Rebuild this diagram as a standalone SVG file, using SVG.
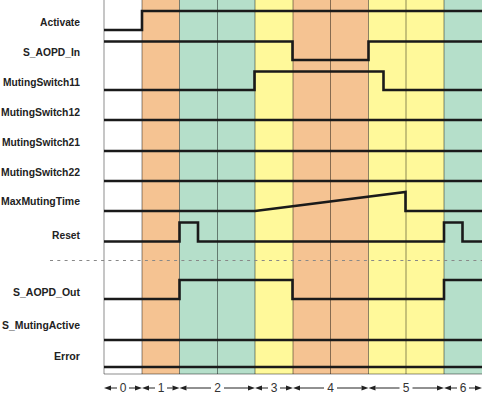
<svg xmlns="http://www.w3.org/2000/svg" width="482" height="397" viewBox="0 0 482 397">
<style>
.lbl{font-family:"Liberation Sans",Arial,sans-serif;font-weight:bold;font-size:11px;fill:#222;text-anchor:end}
.ax{font-family:"Liberation Sans",Arial,sans-serif;font-size:12px;fill:#333;text-anchor:middle}
.sig{fill:none;stroke:#1a1a1a;stroke-width:2.6;stroke-linejoin:miter}
.grid{stroke:#000;stroke-opacity:0.45;stroke-width:1}
.axl{stroke:#222;stroke-width:1}
.ah{fill:#222}
</style>
<rect width="482" height="397" fill="#fff"/>
<g id="phases">
<rect x="142" y="0" width="37.5" height="374" fill="#F5C392"/>
<rect x="179.5" y="0" width="75.5" height="374" fill="#B5DFCA"/>
<rect x="255" y="0" width="38" height="374" fill="#FFF99A"/>
<rect x="293" y="0" width="75.5" height="374" fill="#F5C392"/>
<rect x="368.5" y="0" width="75.5" height="374" fill="#FFF99A"/>
<rect x="444" y="0" width="38" height="374" fill="#B5DFCA"/>
</g>
<g id="grid">
<line class="grid" x1="104" y1="0" x2="104" y2="374"/>
<line class="grid" x1="142" y1="0" x2="142" y2="374"/>
<line class="grid" x1="179.5" y1="0" x2="179.5" y2="374"/>
<line class="grid" x1="217.5" y1="0" x2="217.5" y2="374"/>
<line class="grid" x1="255" y1="0" x2="255" y2="374"/>
<line class="grid" x1="293" y1="0" x2="293" y2="374"/>
<line class="grid" x1="330.5" y1="0" x2="330.5" y2="374"/>
<line class="grid" x1="368.5" y1="0" x2="368.5" y2="374"/>
<line class="grid" x1="406" y1="0" x2="406" y2="374"/>
<line class="grid" x1="444" y1="0" x2="444" y2="374"/>
<line class="grid" x1="104" y1="374" x2="482" y2="374"/>
<line x1="50" y1="260.5" x2="482" y2="260.5" stroke="#888" stroke-width="1" stroke-dasharray="3,4.3"/>
</g>
<g id="labels">
<text class="lbl" x="80" y="26" textLength="40" lengthAdjust="spacingAndGlyphs">Activate</text>
<text class="lbl" x="80" y="56" textLength="57" lengthAdjust="spacingAndGlyphs">S_AOPD_In</text>
<text class="lbl" x="80" y="86" textLength="77" lengthAdjust="spacingAndGlyphs">MutingSwitch11</text>
<text class="lbl" x="80" y="116" textLength="79" lengthAdjust="spacingAndGlyphs">MutingSwitch12</text>
<text class="lbl" x="80" y="146" textLength="78" lengthAdjust="spacingAndGlyphs">MutingSwitch21</text>
<text class="lbl" x="80" y="176" textLength="79" lengthAdjust="spacingAndGlyphs">MutingSwitch22</text>
<text class="lbl" x="80" y="205" textLength="79" lengthAdjust="spacingAndGlyphs">MaxMutingTime</text>
<text class="lbl" x="80" y="239" textLength="28" lengthAdjust="spacingAndGlyphs">Reset</text>
<text class="lbl" x="80" y="296" textLength="67" lengthAdjust="spacingAndGlyphs">S_AOPD_Out</text>
<text class="lbl" x="80" y="329" textLength="78" lengthAdjust="spacingAndGlyphs">S_MutingActive</text>
<text class="lbl" x="80" y="360" textLength="26" lengthAdjust="spacingAndGlyphs">Error</text>
</g>
<g id="signals">
<path class="sig" d="M104,30 H142 V11 H482"/>
<path class="sig" d="M104,41.5 H292.5 V60 H368.5 V41.5 H482"/>
<path class="sig" d="M104,90 H254.5 V71.5 H383.5 V90 H482"/>
<path class="sig" d="M104,120 H482"/>
<path class="sig" d="M104,151 H482"/>
<path class="sig" d="M104,181 H482"/>
<path class="sig" d="M104,211 H255 L405.5,192 V211 H482"/>
<path class="sig" d="M104,241.5 H179.5 V222.5 H198 V241.5 H444 V222.5 H462.5 V241.5 H482"/>
<path class="sig" d="M104,299 H179.5 V280 H292.5 V299 H444 V280 H482"/>
<path class="sig" d="M104,340 H482"/>
<path class="sig" d="M104,367 H482"/>
</g>
<g id="axis">
<polygon class="ah" points="104,388 111,385.5 111,390.5"/><line class="axl" x1="111" y1="388" x2="117" y2="388"/><text class="ax" x="123" y="392">0</text><line class="axl" x1="129" y1="388" x2="135" y2="388"/><polygon class="ah" points="142,388 135,385.5 135,390.5"/>
<polygon class="ah" points="142,388 149,385.5 149,390.5"/><line class="axl" x1="149" y1="388" x2="155" y2="388"/><text class="ax" x="161" y="392">1</text><line class="axl" x1="167" y1="388" x2="172.5" y2="388"/><polygon class="ah" points="179.5,388 172.5,385.5 172.5,390.5"/>
<polygon class="ah" points="179.5,388 186.5,385.5 186.5,390.5"/><line class="axl" x1="186.5" y1="388" x2="211" y2="388"/><text class="ax" x="217.5" y="392">2</text><line class="axl" x1="224" y1="388" x2="248" y2="388"/><polygon class="ah" points="255,388 248,385.5 248,390.5"/>
<polygon class="ah" points="255,388 262,385.5 262,390.5"/><line class="axl" x1="262" y1="388" x2="268" y2="388"/><text class="ax" x="274" y="392">3</text><line class="axl" x1="280" y1="388" x2="286" y2="388"/><polygon class="ah" points="293,388 286,385.5 286,390.5"/>
<polygon class="ah" points="293,388 300,385.5 300,390.5"/><line class="axl" x1="300" y1="388" x2="324" y2="388"/><text class="ax" x="330.5" y="392">4</text><line class="axl" x1="337" y1="388" x2="361.5" y2="388"/><polygon class="ah" points="368.5,388 361.5,385.5 361.5,390.5"/>
<polygon class="ah" points="368.5,388 375.5,385.5 375.5,390.5"/><line class="axl" x1="375.5" y1="388" x2="399.5" y2="388"/><text class="ax" x="406" y="392">5</text><line class="axl" x1="412.5" y1="388" x2="437" y2="388"/><polygon class="ah" points="444,388 437,385.5 437,390.5"/>
<polygon class="ah" points="444,388 451,385.5 451,390.5"/><line class="axl" x1="451" y1="388" x2="457" y2="388"/><text class="ax" x="463" y="392">6</text><line class="axl" x1="469" y1="388" x2="475" y2="388"/><polygon class="ah" points="482,388 475,385.5 475,390.5"/>
</g>
</svg>
